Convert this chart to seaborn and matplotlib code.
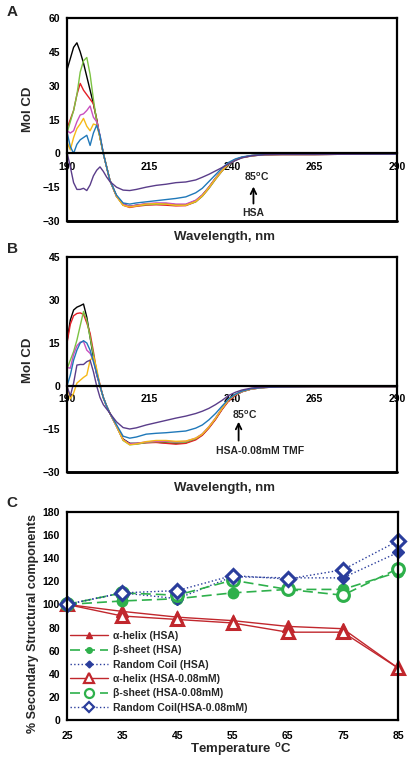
import matplotlib
matplotlib.use("Agg")
import matplotlib.pyplot as plt
import seaborn as sns

sns.set_style("white")
plt.rcParams["font.family"] = ["Liberation Sans", "DejaVu Sans"]
plt.rcParams["font.weight"] = "bold"
plt.rcParams["mathtext.fontset"] = "custom"
plt.rcParams["mathtext.rm"] = "Liberation Sans:bold"
plt.rcParams["mathtext.bf"] = "Liberation Sans:bold"
plt.rcParams["mathtext.it"] = "Liberation Sans:bold"

# ---------------- data: CD spectra ----------------
wavelength = [190, 191, 192, 193, 194, 195, 196, 197, 198, 199, 200, 201, 202, 203, 205, 207, 209,
              211, 214, 217, 220, 223, 226, 229, 231, 233, 235, 237, 239, 241, 243, 246, 250,
              255, 265, 275, 290]
temp_labels = ["25", "35", "45", "55", "65", "75", "85"]
curve_colors = ["#000000", "#e41f26", "#7cc242", "#c94fbf", "#f6b918", "#1f78b9", "#5a3d8a"]

# Panel A (HSA)
a_black = [37, 42, 47, 49, 45, 40, 34, 28, 22, 15, 7, 0, -6, -12, -19, -22.5, -23.5, -23, -22.5, -22.3,
           -22.3, -22.8, -22.8, -21, -18.5, -15, -11, -7.5, -4.5, -2.8, -1.8, -1, -0.6, -0.5, -0.5, -0.4, -0.3]
a_red = [11, 15, 19, 26, 31, 28, 26, 24, 22, 15, 7, 0, -6, -12, -19, -23, -24, -23.5, -23, -22.8,
         -23, -23.3, -23.2, -21.5, -19, -15.5, -11.5, -7.8, -4.8, -3, -1.9, -1.1, -0.6, -0.5, -0.5, -0.4, -0.3]
a_green = [9, 14, 19, 26, 36, 41, 42.5, 35, 24, 14, 7, 0, -6, -12, -19, -23, -23.5, -23.2, -22.8, -22.5,
           -22.5, -23, -23, -21.5, -19, -15.5, -11.5, -7.8, -4.8, -3, -1.9, -1.1, -0.6, -0.5, -0.5, -0.4, -0.3]
a_magenta = [10, 9, 10, 14, 17, 17.5, 19, 21, 16, 14, 8, 0, -6, -12, -19, -22.5, -23.5, -23, -22.3, -22,
             -22, -22.5, -22.5, -20.8, -18.5, -15, -11, -7.5, -4.5, -2.8, -1.8, -1, -0.6, -0.5, -0.5, -0.4, -0.3]
a_yellow = [5, 1.5, 7, 11, 13, 15.5, 12, 10, 13, 12.5, 7, 0, -6, -12, -19, -23, -23.8, -23.3, -22.5, -22.3,
            -22.5, -23, -23, -21.3, -18.8, -15.2, -11.2, -7.6, -4.6, -2.9, -1.8, -1, -0.6, -0.5, -0.5, -0.4, -0.3]
a_blue = [9.5, 3, 0, 4, 6, 7, 8, 3.5, 9, 12.5, 8, 0, -6, -12, -18.5, -22, -22.5, -22, -21.5, -21,
          -20.5, -20, -19.3, -17.5, -15.5, -12.5, -9.5, -6.5, -4, -2.5, -1.6, -0.9, -0.5, -0.4, -0.4, -0.3, -0.3]
a_purple = [0.5, -6, -13, -16, -16, -15.5, -16.5, -14, -10, -7.5, -6, -8, -10.5, -12.5, -15, -16.3, -16.5,
            -16, -15, -14.2, -13.7, -13, -12.7, -11.8, -10.6, -9.3, -7.8, -6.3, -4.7, -3.2, -2, -1.1, -0.6,
            -0.5, -0.5, -0.4, -0.3]

# Panel B (HSA-0.08mM TMF)
b_black = [15.5, 23, 26.5, 27.5, 28, 28.6, 24, 17, 10, 4, 0, -4, -7, -9.5, -14, -18.5, -20, -20, -19.7,
           -19.6, -19.8, -20, -19.8, -18.5, -17, -14.5, -11.5, -8, -5, -3.2, -2, -1, -0.5, -0.3, -0.2, -0.2, -0.2]
b_red = [15, 21.5, 24.5, 25.3, 25.5, 25, 22, 18.4, 12, 5, 0.5, -4, -7, -9.5, -14, -18.8, -20.2, -20.2,
         -19.8, -19.7, -20, -20.3, -20, -18.8, -17.2, -14.7, -11.7, -8.2, -5.2, -3.3, -2, -1, -0.5, -0.3,
         -0.2, -0.2, -0.2]
b_green = [6, 9, 12, 16, 21, 26, 23, 17, 11, 5, 0, -4, -7, -9.5, -14, -19, -20.5, -20.3, -19.7, -19.4,
           -19.5, -19.8, -19.6, -18.4, -16.8, -14.3, -11.3, -7.8, -4.8, -3, -1.9, -1, -0.5, -0.3, -0.2, -0.2, -0.2]
b_magenta = [6.5, 6.2, 11, 14, 15.3, 15.5, 12.5, 11.4, 9, 4, 0, -4, -7, -9.5, -14, -18.7, -20.2, -20,
             -19.5, -19.3, -19.3, -19.5, -19.3, -18.2, -16.7, -14.2, -11.2, -7.7, -4.8, -3, -1.9, -1, -0.5,
             -0.3, -0.2, -0.2, -0.2]
b_yellow = [0, -4.5, -2.5, 1, 2, 3, 3.8, 9, 10.2, 6, 0, -4, -7, -9.5, -14, -18.8, -20.5, -20.2, -19.4,
            -19, -19, -19.3, -19.2, -18.2, -16.8, -14.3, -11.3, -7.8, -4.8, -3, -1.9, -1, -0.5, -0.3, -0.2,
            -0.2, -0.2]
b_blue = [0, 3.8, 9, 12.5, 15, 15.8, 15, 12.5, 8.5, 4.5, 0, -4, -7, -9.5, -13.5, -17.5, -18.2, -17.8,
          -16.8, -16.5, -16.3, -16, -15.7, -14.7, -13.6, -11.8, -9.6, -7, -4.5, -2.9, -1.8, -0.9, -0.5, -0.3,
          -0.2, -0.2, -0.2]
b_purple = [0, -3.5, 1, 7.3, 7.5, 7.5, 8.5, 9, 5, 0, -4, -6.5, -8, -9.5, -12.5, -14.5, -15, -14.6, -13.6,
            -12.8, -12, -11.2, -10.5, -9.6, -8.8, -7.8, -6.5, -5, -3.3, -2.2, -1.4, -0.7, -0.4, -0.3, -0.2,
            -0.2, -0.2]

# ---------------- data: secondary structure ----------------
temperature = [25, 35, 45, 55, 65, 75, 85]
helix_hsa = [100, 94, 89, 86, 81, 79, 45]
sheet_hsa = [100, 103, 105, 110, 113, 113, 128]
coil_hsa = [100, 110, 105, 124, 123, 123, 145]
helix_tmf = [100, 90, 87, 84, 76, 76, 45]
sheet_tmf = [100, 110, 108, 121, 113, 108, 131]
coil_tmf = [100, 110, 112, 125, 122, 130, 155]

W, H = 408, 761
fig = plt.figure(figsize=(W / 100, H / 100), dpi=100)
TICK = 7.5
LAB = 9.5
XLAB = 9.5
FRAME = 1.6


def px_axes(left, top, right, bottom):
    return fig.add_axes([left / W, 1 - bottom / H, (right - left) / W, (bottom - top) / H])


def cd_panel(ax, curves, ymin, ymax, ystep, ylab_y):
    for vals, col in zip(curves, curve_colors):
        sns.lineplot(x=wavelength, y=vals, color=col, lw=1.0, ax=ax, sort=False,
                     estimator=None, legend=False)
    ax.set_xlim(190, 290)
    ax.set_ylim(ymin, ymax)
    ax.set_yticks(list(range(ymin, ymax + 1, ystep)))
    ax.set_xticks([190, 215, 240, 265, 290])
    for s in ax.spines.values():
        s.set_linewidth(FRAME)
        s.set_color("black")
    ax.spines["bottom"].set_position(("data", 0))
    ax.axhline(ymin, color="black", lw=FRAME * 1.3, clip_on=False)
    ax.tick_params(axis="both", labelsize=TICK, direction="out", length=3, width=1.2,
                   colors="black", pad=2)
    ax.tick_params(axis="x", pad=3)
    for t in ax.get_xticklabels() + ax.get_yticklabels():
        t.set_fontweight("bold")
    ax.set_xlabel("Wavelength, nm", fontsize=XLAB, fontweight="bold")
    ax.set_ylabel("Mol CD", fontsize=LAB, fontweight="bold")
    ax.yaxis.label.set_va("center")
    ax.xaxis.label.set_va("center")
    ax.yaxis.set_label_coords(-0.118, ylab_y)


# Panel A
axA = px_axes(67, 18, 397, 221)
cd_panel(axA, [a_black, a_red, a_green, a_magenta, a_yellow, a_blue, a_purple], -30, 60, 15, 0.55)
axA.xaxis.set_label_coords(0.476, -0.079)
axA.annotate("", xy=(246.5, -13.5), xytext=(246.5, -23.5),
             arrowprops=dict(arrowstyle="->", lw=1.3, color="black", mutation_scale=10))
axA.text(247.5, -10.6, r"85$^{o}$C", ha="center", va="center", fontsize=TICK, fontweight="bold")
axA.text(246.5, -26.3, "HSA", ha="center", va="center", fontsize=TICK, fontweight="bold")

# Panel B
axB = px_axes(67, 257, 397, 472)
cd_panel(axB, [b_black, b_red, b_green, b_magenta, b_yellow, b_blue, b_purple], -30, 45, 15, 0.52)
axB.xaxis.set_label_coords(0.476, -0.074)
axB.annotate("", xy=(242, -11.5), xytext=(242, -20),
             arrowprops=dict(arrowstyle="->", lw=1.3, color="black", mutation_scale=10))
axB.text(244, -10.2, r"85$^{o}$C", ha="center", va="center", fontsize=TICK, fontweight="bold")
axB.text(248.6, -22.8, "HSA-0.08mM TMF", ha="center", va="center", fontsize=TICK, fontweight="bold")

# Panel C
axC = px_axes(67, 512, 398, 720)
red, green, blue = "#c1272d", "#2eb04b", "#2a3d9c"
# values, label, colour, linestyle, marker, plot size, legend size, face, linewidth
series = [
    (helix_hsa, "α-helix (HSA)", red, "-", "^", 8, 4.5, red, 1.0),
    (sheet_hsa, "β-sheet (HSA)", green, (0, (6, 3)), "o", 7.5, 4, green, 1.2),
    (coil_hsa, "Random Coil (HSA)", blue, ":", "D", 6.5, 3.5, blue, 1.0),
    (helix_tmf, "α-helix (HSA-0.08mM)", red, "-", "^", 9, 7, "white", 1.0),
    (sheet_tmf, "β-sheet (HSA-0.08mM)", green, (0, (6, 3)), "o", 8.5, 6.5, "white", 1.2),
    (coil_tmf, "Random Coil(HSA-0.08mM)", blue, ":", "D", 7, 5.5, "white", 1.0),
]
for vals, lab, col, ls, mk, ms, lms, fc, lw in series:
    sns.lineplot(x=temperature, y=vals, ax=axC, color=col, linestyle=ls, lw=lw, marker=mk,
                 markersize=ms, markerfacecolor=fc, markeredgecolor=col,
                 markeredgewidth=2.2 if fc == "white" else 1.0, label=lab, clip_on=False,
                 estimator=None, sort=False)
axC.set_xlim(25, 85)
axC.set_ylim(0, 180)
axC.set_xticks(temperature)
axC.set_yticks(list(range(0, 181, 20)))
for s in axC.spines.values():
    s.set_linewidth(FRAME)
    s.set_color("black")
axC.tick_params(axis="both", labelsize=TICK, direction="out", length=3, width=1.2,
                colors="black", pad=2)
axC.tick_params(axis="x", pad=5)
for t in axC.get_xticklabels() + axC.get_yticklabels():
    t.set_fontweight("bold")
axC.set_xlabel(r"Temperature $^{o}$C", fontsize=XLAB, fontweight="bold")
axC.set_ylabel("% Secondary Structural components", fontsize=LAB - 0.5, fontweight="bold")
axC.xaxis.label.set_va("center")
axC.yaxis.label.set_va("center")
axC.xaxis.set_label_coords(0.525, -0.144)
axC.yaxis.set_label_coords(-0.104, 0.466)
leg = axC.legend(loc="lower left", bbox_to_anchor=(0.0, 0.02), frameon=False,
                 prop={"size": TICK, "weight": "bold"}, handlelength=3.6, labelspacing=0.42,
                 borderpad=0.1, handletextpad=0.5, borderaxespad=0.2)
for h, s in zip(leg.legend_handles, series):
    h.set_markersize(s[6])
    h.set_markeredgewidth(1.6 if s[7] == "white" else 1.0)

# panel letters
for letter, y in [("A", 12), ("B", 249), ("C", 503)]:
    fig.text(12 / W, 1 - y / H, letter, fontsize=11, fontweight="bold", ha="center", va="center")

fig.savefig("out.png", dpi=100)
